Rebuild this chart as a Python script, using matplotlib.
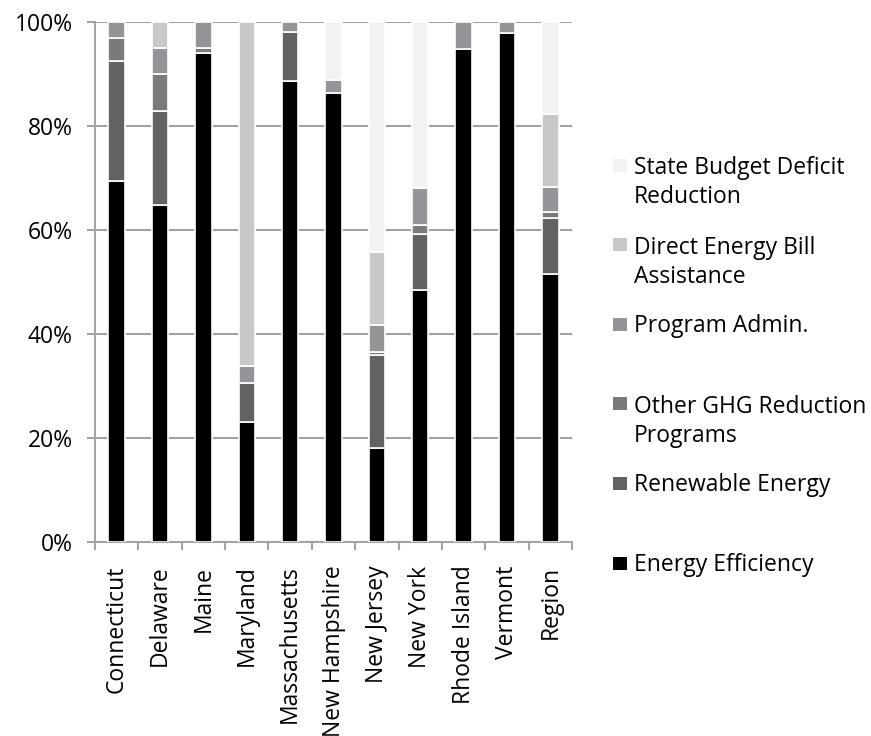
import numpy as np
import matplotlib.pyplot as plt
from matplotlib.patches import Rectangle
from matplotlib.ticker import PercentFormatter, FixedLocator

plt.rcParams['font.family'] = ['Open Sans', 'DejaVu Sans']

states = ["Connecticut", "Delaware", "Maine", "Maryland", "Massachusetts",
          "New Hampshire", "New Jersey", "New York", "Rhode Island", "Vermont", "Region"]

# shares in percent, bottom of stack first
energy_eff = [69.5, 64.8, 94.0, 23.1, 88.7, 86.4, 18.1, 48.5, 94.8, 97.8, 51.6]
renewable = [23.0, 18.1, 0, 7.5, 9.4, 0, 17.9, 10.7, 0, 0, 10.8]
other_ghg = [4.5, 7.1, 1.0, 0, 0, 0, 0.5, 1.8, 0, 0, 1.1]
prog_admin = [3.0, 5.0, 5.0, 3.2, 1.9, 2.4, 5.3, 7.1, 5.2, 2.2, 4.7]
direct_bill = [0, 5.0, 0, 66.2, 0, 0, 14.0, 0, 0, 0, 14.2]
budget_def = [0, 0, 0, 0, 0, 11.2, 44.2, 31.9, 0, 0, 17.6]

series = [
    ("Energy Efficiency", energy_eff, "#000000"),
    ("Renewable Energy", renewable, "#616264"),
    ("Other GHG Reduction\nPrograms", other_ghg, "#797a7c"),
    ("Program Admin.", prog_admin, "#949598"),
    ("Direct Energy Bill\nAssistance", direct_bill, "#c7c8ca"),
    ("State Budget Deficit\nReduction", budget_def, "#f2f2f2"),
]

W, H = 871, 736
fig = plt.figure(figsize=(W / 100, H / 100), dpi=100)
ax = fig.add_axes([95 / W, 1 - 542 / H, (572 - 95) / W, (542 - 22) / H])

x = np.arange(len(states))
bottom = np.zeros(len(states))
for name, vals, col in series:
    v = np.array(vals, dtype=float)
    lw = np.where(v > 0, 1.2, 0.0)
    ax.bar(x, v, 0.38, bottom=bottom, color=col, edgecolor="white", linewidth=lw, zorder=3)
    bottom += v

grey = "#a3a3a3"
ax.set_xlim(-0.5, len(states) - 0.5)
ax.set_ylim(0, 100)
ax.yaxis.set_major_locator(FixedLocator([0, 20, 40, 60, 80, 100]))
ax.yaxis.set_major_formatter(PercentFormatter(decimals=0))
ax.yaxis.grid(True, color=grey, linewidth=1.5, zorder=0)
ax.set_axisbelow(True)

ax.set_xticks(x)
ax.set_xticklabels(states, rotation=90, fontsize=16.5)
ax.tick_params(axis="x", length=0, pad=17)
ax.set_xticks(np.arange(len(states) + 1) - 0.5, minor=True)
ax.tick_params(axis="x", which="minor", length=6, width=1.5, color=grey, direction="out")
ax.tick_params(axis="y", labelsize=16.5, length=6, width=1.5, color=grey, pad=10)

for s in ["top", "right"]:
    ax.spines[s].set_visible(False)
for s in ["left", "bottom"]:
    ax.spines[s].set_color(grey)
    ax.spines[s].set_linewidth(1.5)

# legend, top entry first; swatch sits beside the first line of each label
for i, (name, vals, col) in enumerate(reversed(series)):
    yc = 165 + i * 79.6
    nlines = name.count("\n") + 1
    fig.patches.append(Rectangle((613 / W, 1 - (yc + 6.5) / H), 14 / W, 13 / H,
                                 transform=fig.transFigure, facecolor=col,
                                 edgecolor="none"))
    ybase = yc + 8 + (nlines - 1) * 30
    fig.text(634 / W, 1 - ybase / H, name, fontsize=16.5, va="baseline",
             ha="left", linespacing=1.25)

fig.savefig("out.png", dpi=100)
